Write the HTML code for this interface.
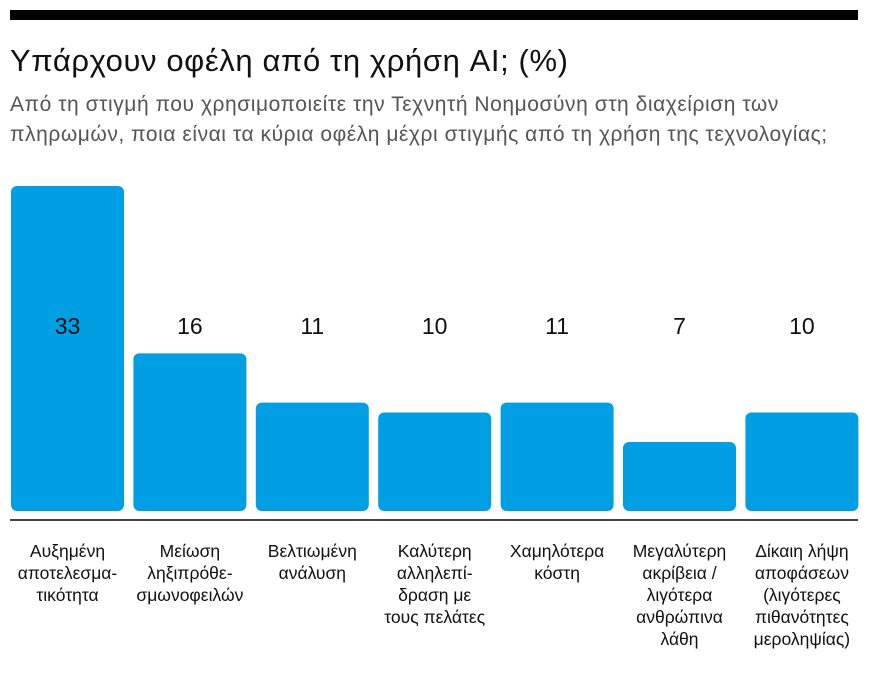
<!DOCTYPE html>
<html><head><meta charset="utf-8"><style>
body{margin:0;background:#fff;width:869px;height:674px;overflow:hidden;font-family:"Liberation Sans","DejaVu Sans",sans-serif;}
#top{position:absolute;left:10px;top:10px;width:848px;height:10px;background:#000;}
#title{position:absolute;left:10px;top:43px;font-size:31px;color:#111;letter-spacing:0.6px;white-space:nowrap;}
#sub{position:absolute;left:10px;top:90px;font-size:21px;line-height:30px;color:#555;width:880px;letter-spacing:0.55px;white-space:nowrap;}
svg{position:absolute;left:0;top:0;}
</style></head><body>
<div id="top"></div>
<div id="title">Υπάρχουν οφέλη από τη χρήση AI; (%)</div>
<div id="sub">Από τη στιγμή που χρησιμοποιείτε την Τεχνητή Νοημοσύνη στη διαχείριση των<br>πληρωμών, ποια είναι τα κύρια οφέλη μέχρι στιγμής από τη χρήση της τεχνολογίας;</div>
<svg id="chart" width="869" height="674"></svg>
<script>
const categories=[["Αυξημένη","αποτελεσμα-","τικότητα"],["Μείωση","ληξιπρόθε-","σμωνοφειλών"],["Βελτιωμένη","ανάλυση"],["Καλύτερη","αλληλεπί-","δραση με","τους πελάτες"],["Χαμηλότερα","κόστη"],["Μεγαλύτερη","ακρίβεια /","λιγότερα","ανθρώπινα","λάθη"],["Δίκαιη λήψη","αποφάσεων","(λιγότερες","πιθανότητες","μεροληψίας)"]];
const values=[33,16,11,10,11,7,10];
const labels=["33","16","11","10","11","7","10"];
const NS="http://www.w3.org/2000/svg";
const svg=document.getElementById('chart');
const base=511, scale=9.85, x0=11, step=122.4, bw=113;
function y(v){return base-v*scale;}
function x(i){return x0+i*step;}
function mk(t,a){const e=document.createElementNS(NS,t);for(const k in a)e.setAttribute(k,a[k]);svg.appendChild(e);return e;}
values.forEach((v,i)=>{
 const r=mk('rect',{x:x(i),y:y(v),width:bw,height:base-y(v),rx:6,fill:'#009fe3'});
 
 
 const t=mk('text',{x:x(i)+bw/2,y:334,'text-anchor':'middle','font-size':23,fill:'#111'});
 t.textContent=labels[i];
 
 
 const g=mk('text',{x:x(i)+bw/2,y:557,'text-anchor':'middle','font-size':17.5,fill:'#111'});
 
 
 categories[i].forEach((l,j)=>{const s=document.createElementNS(NS,'tspan');s.setAttribute('x',x(i)+bw/2);s.setAttribute('y',557+j*22);s.textContent=l;g.appendChild(s);});
});
const ln=mk('line',{x1:10,x2:858,y1:520,y2:520,stroke:'#444','stroke-width':2});


</script>
</body></html>
